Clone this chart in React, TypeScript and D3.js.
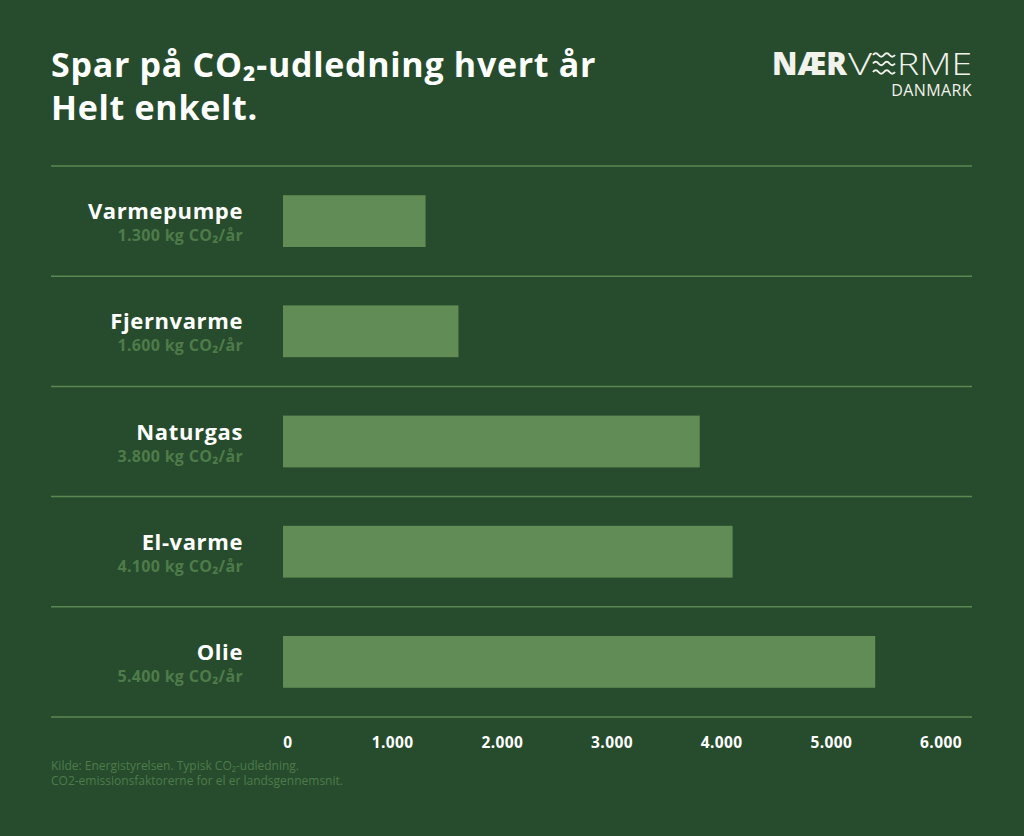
import React from "react";
import * as d3 from "d3";

const categories = ["Varmepumpe", "Fjernvarme", "Naturgas", "El-varme", "Olie"];
const values = [1300, 1600, 3800, 4100, 5400];
const valueLabels = ["1.300 kg CO₂/år", "1.600 kg CO₂/år", "3.800 kg CO₂/år", "4.100 kg CO₂/år", "5.400 kg CO₂/år"];
const tickValues = [0, 1000, 2000, 3000, 4000, 5000, 6000];
const tickLabels = ["0", "1.000", "2.000", "3.000", "4.000", "5.000", "6.000"];
const titleLines = ["Spar på CO₂-udledning hvert år", "Helt enkelt."];
const sourceLines = [
  "Kilde: Energistyrelsen. Typisk CO₂-udledning.",
  "CO2-emissionsfaktorerne for el er landsgennemsnit.",
];

const W = 1024;
const H = 836;
const BG = "#264c2d";
const BAR = "#618c56";
const GRID = "#5b8752";
const SUB = "#4f7b4a";
const FONT = "'Open Sans', Lato, sans-serif";
const LOGO = "#f2f2ec";

export default function App() {
  const x = d3.scaleLinear().domain([0, 6000]).range([283, 941]);
  const y = d3
    .scaleBand<string>()
    .domain(categories)
    .range([166, 717])
    .paddingInner(0.53)
    .paddingOuter(0.265);
  const step = y.step();
  const gridYs = d3.range(categories.length + 1).map((i) => 166 + i * step);

  const wave = (yy: number) => {
    const x0 = 873;
    const w = 22;
    const n = 4;
    const seg = w / n;
    let p = `M${x0},${yy}`;
    for (let i = 0; i < n; i++) {
      const sx = x0 + i * seg;
      const dir = i % 2 === 0 ? -1 : 1;
      p += ` Q${sx + seg / 2},${yy + dir * 3.5} ${sx + seg},${yy}`;
    }
    return p;
  };

  return (
    <svg
      width={W}
      height={H}
      style={{ position: "absolute", left: 0, top: 0, display: "block" }}
      fontFamily={FONT}
    >
      <rect x={0} y={0} width={W} height={H} fill={BG} />

      {/* Title */}
      {titleLines.map((t, i) => (
        <text
          key={t}
          x={51}
          y={77 + i * 43}
          fill="#ffffff"
          fontSize={34}
          fontWeight={700}
          letterSpacing={0.7}
        >
          {t}
        </text>
      ))}

      {/* Logo */}
      <g fill={LOGO}>
        <text x={772} y={75} fontSize={31} fontWeight={800} textLength={75} lengthAdjust="spacingAndGlyphs">
          NÆR
        </text>
        <text x={848} y={75} fontSize={31} fontWeight={300} textLength={24} lengthAdjust="spacingAndGlyphs">
          V
        </text>
        <g fill="none" stroke={LOGO} strokeWidth={2}>
          {[55, 63.5, 72].map((yy) => (
            <path key={yy} d={wave(yy)} />
          ))}
        </g>
        <text x={897} y={75} fontSize={31} fontWeight={300} textLength={75} lengthAdjust="spacingAndGlyphs">
          RME
        </text>
        <text x={972} y={96} fontSize={16} fontWeight={400} textAnchor="end" letterSpacing={0.4}>
          DANMARK
        </text>
      </g>

      {/* Grid lines */}
      {gridYs.map((gy) => (
        <line key={gy} x1={51} x2={972} y1={gy} y2={gy} stroke={GRID} strokeWidth={1.5} />
      ))}

      {/* Bars and labels */}
      {categories.map((c, i) => {
        const by = y(c) as number;
        const bw = y.bandwidth();
        return (
          <g key={c}>
            <rect x={x(0)} y={by} width={x(values[i]) - x(0)} height={bw} fill={BAR} />
            <text
              x={243}
              y={by + 24}
              fill="#ffffff"
              fontSize={22}
              fontWeight={700}
              textAnchor="end"
              letterSpacing={0.6}
            >
              {c}
            </text>
            <text
              x={243}
              y={by + 46}
              fill={SUB}
              fontSize={16}
              fontWeight={700}
              textAnchor="end"
              letterSpacing={0.3}
            >
              {valueLabels[i]}
            </text>
          </g>
        );
      })}

      {/* Axis tick labels */}
      {tickValues.map((v, i) => (
        <text
          key={v}
          x={x(v) + (v === 0 ? 5 : 0)}
          y={748}
          fill="#ffffff"
          fontSize={15.5}
          fontWeight={700}
          textAnchor="middle"
          letterSpacing={0.4}
        >
          {tickLabels[i]}
        </text>
      ))}

      {/* Source */}
      {sourceLines.map((t, i) => (
        <text key={t} x={51} y={770 + i * 15} fill={SUB} fontSize={12}>
          {t}
        </text>
      ))}
    </svg>
  );
}
